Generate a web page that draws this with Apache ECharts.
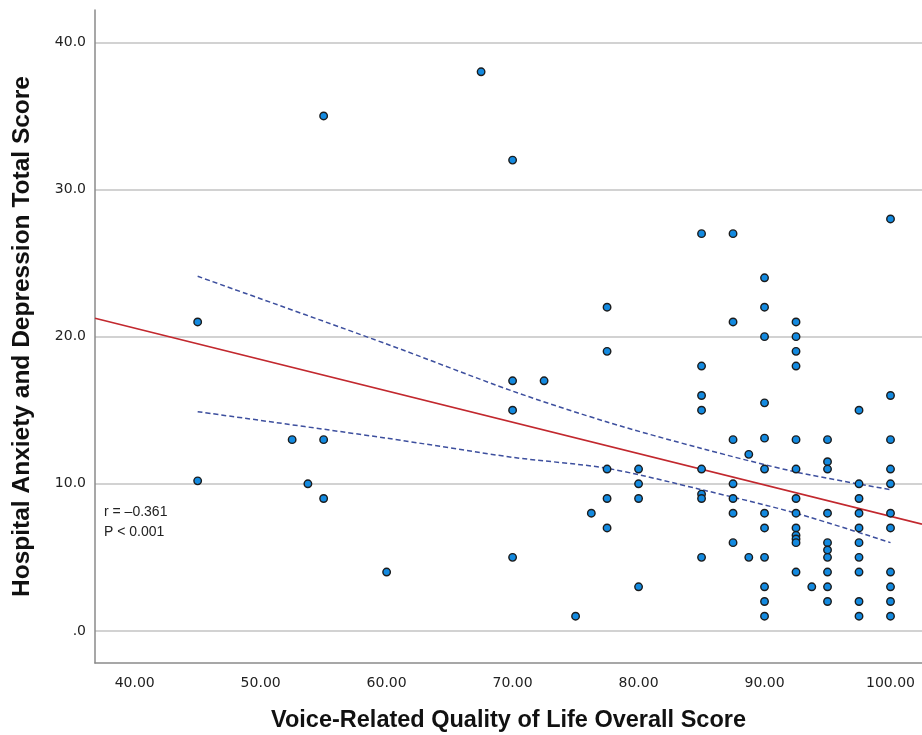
<!DOCTYPE html>
<html>
<head>
<meta charset="utf-8">
<script src="https://cdn.jsdelivr.net/npm/echarts@6/dist/echarts.min.js"></script>
<style>
  html, body { margin: 0; padding: 0; background: #fff; }
  #chart { width: 922px; height: 735px; }
</style>
</head>
<body>
<div id="chart"></div>
<script>
// ---- data ----
// VRQOL columns and the HADS scores sitting in each column
var vrqolCols = [45, 52.5, 53.75, 55, 60, 67.5, 70, 72.5, 75, 76.25, 77.5, 80, 85, 87.5, 88.75, 90, 92.5, 93.75, 95, 97.5, 100];
var hadsCols = [
    [21, 10.2],
    [13],
    [10],
    [35, 13, 9],
    [4],
    [38],
    [32, 17, 15, 5],
    [17],
    [1],
    [8],
    [22, 19, 11, 9, 7],
    [11, 10, 9, 3],
    [27, 18, 16, 15, 11, 9.3, 9, 5],
    [27, 21, 13, 10, 9, 8, 6],
    [12, 5],
    [24, 22, 20, 15.5, 13.1, 11, 8, 7, 5, 3, 2, 1],
    [21, 20, 19, 18, 13, 11, 9, 8, 7, 6.5, 6.25, 6, 4],
    [3],
    [13, 11.5, 11, 8, 6, 5.5, 5, 4, 3, 2],
    [15, 10, 9, 8, 7, 6, 5, 4, 2, 1],
    [28, 16, 13, 11, 10, 8, 7, 4, 3, 2, 1]
];

// fit line (ends at the plot edges)
var fitX = [36.85, 102.5];
var fitY = [21.25, 7.26];

// 95% confidence band
var ciX = [45, 60, 70, 77.5, 85, 92.5, 100];
var ciUpper = [24.1, 19.5, 16.3, 14.2, 12.4, 10.8, 9.6];
var ciLower = [14.9, 13.1, 11.8, 11.05, 9.6, 8.0, 6.0];

var statLines = ['r = –0.361', 'P < 0.001'];

// ---- build ----
var points = [];
vrqolCols.forEach(function (x, i) {
    hadsCols[i].forEach(function (y) {
        points.push([x, y]);
    });
});
function pairs(xs, ys) {
    return xs.map(function (x, i) { return [x, ys[i]]; });
}

var chart = echarts.init(document.getElementById('chart'));

var option = {
    backgroundColor: '#fff',
    animation: false,
    grid: { left: 95, right: 0, top: 10, bottom: 72, outerBoundsMode: 'none', containLabel: false },
    xAxis: {
        type: 'value',
        min: 36.85,
        max: 102.5,
        name: 'Voice-Related Quality of Life Overall Score',
        nameLocation: 'middle',
        nameGap: 46,
        nameTextStyle: {
            fontFamily: 'Liberation Sans',
            fontWeight: 'bold',
            fontSize: 23.5,
            color: '#111'
        },
        axisLine: { show: true, onZero: false, lineStyle: { color: '#8a8a8a', width: 1.5 } },
        axisTick: { show: false },
        splitLine: { show: false },
        axisLabel: {
            margin: 13,
            fontFamily: 'DejaVu Sans',
            fontSize: 14,
            color: '#222',
            showMinLabel: false,
            showMaxLabel: false,
            formatter: function (v) {
                return v % 10 === 0 ? v.toFixed(2) : '';
            }
        }
    },
    yAxis: {
        type: 'value',
        min: -2.18,
        max: 42.2,
        name: 'Hospital Anxiety and Depression Total Score',
        nameLocation: 'middle',
        nameGap: 60,
        nameTextStyle: {
            fontFamily: 'Liberation Sans',
            fontWeight: 'bold',
            fontSize: 24.5,
            color: '#111'
        },
        axisLine: { show: true, onZero: false, lineStyle: { color: '#8a8a8a', width: 1.5 } },
        axisTick: { show: false },
        splitLine: {
            show: true,
            showMinLine: false,
            showMaxLine: false,
            lineStyle: { color: '#d2d2d2', width: 2 }
        },
        axisLabel: {
            margin: 9,
            fontFamily: 'DejaVu Sans',
            fontSize: 14,
            color: '#222',
            showMinLabel: false,
            showMaxLabel: false,
            formatter: function (v) {
                if (v % 10 !== 0) return '';
                return v === 0 ? '.0' : v.toFixed(1);
            }
        }
    },
    graphic: [{
        type: 'text',
        left: 104,
        top: 502,
        style: {
            text: statLines.join('\n'),
            font: '14px "Liberation Sans"',
            lineHeight: 20,
            fill: '#222'
        }
    }],
    series: [
        {
            name: 'fit',
            type: 'line',
            data: pairs(fitX, fitY),
            symbol: 'none',
            lineStyle: { color: '#c2282e', width: 1.6 },
            z: 2
        },
        {
            name: 'upper',
            type: 'line',
            data: pairs(ciX, ciUpper),
            smooth: 0.3,
            symbol: 'none',
            lineStyle: { color: '#3d4f9e', width: 1.5, type: [5, 3] },
            z: 2
        },
        {
            name: 'lower',
            type: 'line',
            data: pairs(ciX, ciLower),
            smooth: 0.3,
            symbol: 'none',
            lineStyle: { color: '#3d4f9e', width: 1.5, type: [5, 3] },
            z: 2
        },
        {
            name: 'HADS',
            type: 'scatter',
            data: points,
            symbol: 'circle',
            symbolSize: 7.5,
            itemStyle: { color: '#138ae0', borderColor: '#1c1c1c', borderWidth: 1.4, opacity: 1 },
            z: 3
        }
    ]
};

chart.setOption(option);
</script>
</body>
</html>
